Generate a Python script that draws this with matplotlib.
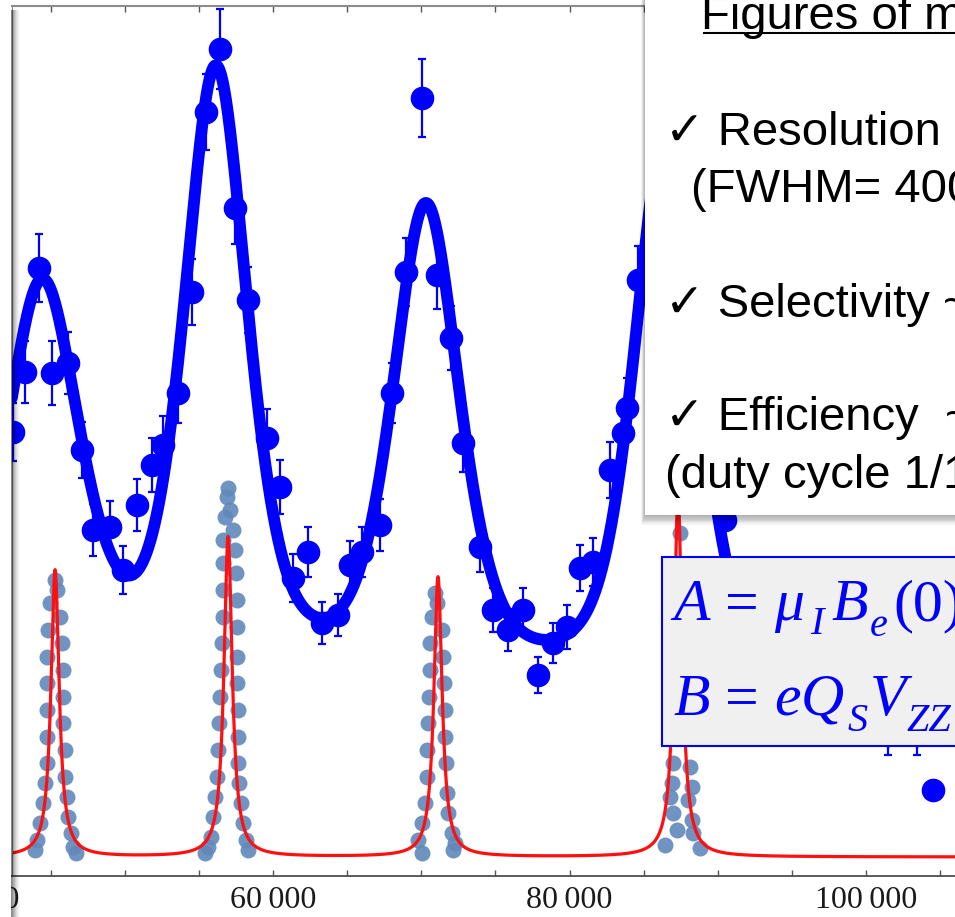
import numpy as np
import matplotlib.pyplot as plt
import matplotlib.transforms as mtransforms
from matplotlib.patches import Rectangle
from matplotlib.lines import Line2D
from matplotlib.ticker import MultipleLocator, FuncFormatter

plt.rcParams['font.family'] = ['Liberation Serif', 'DejaVu Serif']

# broad scan: frequency, counts, error
scan_freq = [42460, 43270, 44220, 45090, 46170, 47120, 47860, 49010, 49880, 50830,
             51840, 52580, 53590, 54540, 55480, 56430, 57440, 58310, 59600, 60470,
             61350, 62360, 63310, 64380, 65190, 66000, 67220, 68030, 68970, 70050,
             71060, 72010, 72820, 73960, 74840, 75850, 76860, 77870, 78890, 79830,
             80710, 81580, 82730, 83610, 83880, 84620, 90490, 101480, 103440, 104520]
scan_counts = [444, 504, 608, 503, 513, 426, 346, 349, 306, 371,
               411, 431, 483, 584, 764, 827, 668, 576, 438, 389,
               298, 324, 253, 261, 311, 324, 351, 483, 604, 778,
               601, 538, 433, 329, 266, 246, 266, 201, 233, 249,
               308, 314, 406, 443, 468, 596, 356, 141, 141, 86]
scan_err = [29, 31, 34, 32, 31, 28, 26, 26, 24, 26,
            27, 29, 30, 33, 38, 40, 36, 33, 29, 27,
            24, 25, 21, 21, 24, 25, 26, 30, 34, 39,
            34, 32, 29, 25, 22, 21, 22, 18, 20, 22,
            23, 24, 28, 29, 30, 34, 25, 20, 20, 9]

# fit of the broad scan (pseudo-Voigt lines on a flat background)
fit_centers = [44420, 56150, 70320, 86510]
fit_amps = [399, 607, 473, 553]
fit_fwhm = [6070, 5126, 5396, 5126]
fit_eta = 0.5
fit_base = 181

# narrow scan
narrow_freq = [45300, 45430, 44960, 45630, 44820, 45770, 44760, 45840, 44760, 45840,
               44760, 45840, 44760, 45970, 44760, 45970, 44620, 46100, 44490, 46170,
               44280, 46380, 44080, 46510, 43950, 46710,
               56970, 56900, 57100, 56760, 57300, 56630, 57440, 56630, 57500, 56630,
               57570, 56630, 57570, 56560, 57570, 56490, 57570, 56430, 57640, 56360,
               57640, 56290, 57640, 56220, 57710, 56090, 57840, 55950, 57980, 55820,
               58180, 55620, 58310, 55410,
               70930, 71060, 70720, 71400, 70590, 71470, 70590, 71530, 70520, 71600,
               70460, 71600, 70390, 71670, 70390, 71740, 70250, 71800, 70050, 72070,
               69780, 72280, 70050, 72140,
               87450, 87110, 87790, 86980, 87920, 86980, 88130, 86910, 88260, 86780,
               87990, 86980, 88260, 87250, 88330, 86440, 88800]
narrow_counts = [296, 286, 273, 259, 246, 233, 219, 206, 193, 179,
                 166, 153, 139, 126, 113, 99, 93, 79, 73, 59,
                 53, 43, 36, 29, 26, 23,
                 388, 379, 366, 359, 346, 336, 326, 313, 303, 286,
                 276, 259, 249, 233, 219, 206, 193, 179, 166, 153,
                 139, 126, 113, 99, 93, 79, 73, 59, 53, 39,
                 36, 29, 26, 23,
                 283, 273, 259, 246, 233, 219, 206, 193, 179, 166,
                 153, 139, 126, 113, 99, 83, 73, 63, 53, 43,
                 36, 33, 23, 26,
                 343, 276, 226, 176, 146, 113, 109, 93, 89, 79,
                 76, 63, 56, 46, 43, 31, 28]

# Lorentzian fit of the narrow scan
narrow_centers = [45300, 56970, 71130, 87320]
narrow_amps = [287, 320, 280, 360]
narrow_fwhm = 670
narrow_base = 19

tick_values = [40000, 60000, 80000, 100000]


def pseudo_voigt(x, c, a, w, eta):
    d = (x - c) / w
    return a * (eta / (1 + 4 * d ** 2) + (1 - eta) * np.exp(-4 * np.log(2) * d ** 2))


def lorentz(x, c, a, w):
    return a / (1 + 4 * ((x - c) / w) ** 2)


W, H = 955, 917
fig = plt.figure(figsize=(W / 100, H / 100), dpi=100)
px = mtransforms.Affine2D().scale(1 / W, -1 / H).translate(0, 1) + fig.transFigure

ax = fig.add_axes([12 / W, (H - 876) / H, (W - 12) / W, 870 / H])
ax.set_xlim(42395, 106001)
ax.set_ylim(0, 870)

xg = np.linspace(42000, 106500, 6000)
broad = fit_base + sum(pseudo_voigt(xg, c, a, w, fit_eta)
                       for c, a, w in zip(fit_centers, fit_amps, fit_fwhm))
narrow = narrow_base + sum(lorentz(xg, c, a, narrow_fwhm)
                           for c, a in zip(narrow_centers, narrow_amps))

ax.plot(narrow_freq, narrow_counts, 'o', color='#6088bb', ms=11.5, mec='none',
        alpha=0.9, zorder=1)
ax.plot(xg, narrow, color='#ff1010', lw=2.3, zorder=2)
ax.plot(xg, broad, color='#0000ff', lw=8.5, zorder=3, solid_capstyle='round')
ax.errorbar(scan_freq, scan_counts, yerr=scan_err, fmt='o', color='#0000ff',
            ms=16, elinewidth=1.6, capsize=3, capthick=1.6, zorder=4)

ax.spines['right'].set_visible(False)
ax.spines['left'].set_color('#8c8c8c')
ax.spines['top'].set_color('#8c8c8c')
ax.spines['top'].set_linewidth(1.5)
ax.spines['bottom'].set_color('#4d4d4d')
ax.spines['bottom'].set_linewidth(1.3)
ax.set_yticks([])
ax.xaxis.set_major_locator(MultipleLocator(20000))
ax.xaxis.set_minor_locator(MultipleLocator(5000))
ax.xaxis.set_major_formatter(FuncFormatter(lambda v, p: f'{int(v) // 1000}\u2009000'))
ax.tick_params(axis='x', which='both', direction='in', top=True, bottom=True,
               length=4, width=1, color='#555555', labelsize=23, pad=7,
               labelcolor='#1a1a1a')
ax.annotate(f'{tick_values[0] // 1000}\u2009000', xy=(tick_values[0], 0),
            xycoords=('data', 'axes fraction'), xytext=(0, -7),
            textcoords='offset points', ha='center', va='top', fontsize=23,
            color='#1a1a1a', annotation_clip=False)

# blank margin left of the plot and its grey edge
fig.add_artist(Rectangle((-5, -5), 16, 930, transform=px, facecolor='white',
                         edgecolor='none', zorder=1))
for i, a in enumerate([0.45, 0.40, 0.33, 0.26, 0.19, 0.13, 0.08, 0.05, 0.02]):
    fig.add_artist(Line2D([11 + i, 11 + i], [10, 917], transform=px,
                          color='black', alpha=a, lw=0.75, zorder=1.2))

# text panel with soft shadow
for k in range(1, 9):
    fig.add_artist(Rectangle((645 - 0.5 * k, -20), 400, 535 + 1.2 * k, transform=px,
                             facecolor='black', edgecolor='none', alpha=0.045, zorder=1))
fig.add_artist(Rectangle((645, -20), 400, 535, transform=px,
                         facecolor='white', edgecolor='none', zorder=1.5))

sans = ['Liberation Sans', 'DejaVu Sans']
fig.text(701, 29, 'Figures of m', transform=px, fontsize=34, family=sans)
fig.add_artist(Line2D([704, 960], [33, 33], transform=px, color='black', lw=1.5, zorder=3))
fig.text(665, 145, '\u2713 Resolution', transform=px, fontsize=34, family=sans)
fig.text(691, 202, '(FWHM= 400', transform=px, fontsize=34, family=sans)
fig.text(665, 317, '\u2713 Selectivity ~', transform=px, fontsize=34, family=sans)
fig.text(665, 430, '\u2713 Efficiency  ~', transform=px, fontsize=34, family=sans)
fig.text(665, 488, '(duty cycle 1/1', transform=px, fontsize=34, family=sans)

# formula box
fig.add_artist(Rectangle((662, 557), 320, 189, transform=px, facecolor='#f0f0f0',
                         edgecolor='#0000ff', lw=1.5, zorder=1.5))
formula_parts = [
    # text, x, baseline, size, italic
    ('A', 673, 620, 43, True), ('=', 725, 620, 43, False), ('\u03bc', 774, 620, 43, True),
    ('I', 810, 634, 29, True), ('B', 831, 620, 43, True), ('e', 870, 636, 29, True),
    ('(0)', 893, 620, 43, False),
    ('B', 673, 715, 43, True), ('=', 725, 715, 43, False), ('e', 774, 715, 43, True),
    ('Q', 801, 715, 43, True), ('S', 848, 731, 29, True), ('V', 870, 715, 43, True),
    ('ZZ', 906, 731, 29, True),
]
for s, x, y, size, italic in formula_parts:
    fig.text(x, y, s, transform=px, fontsize=size, color='#0000ff',
             style='italic' if italic else 'normal', va='baseline')

fig.savefig('out.png', dpi=100)
